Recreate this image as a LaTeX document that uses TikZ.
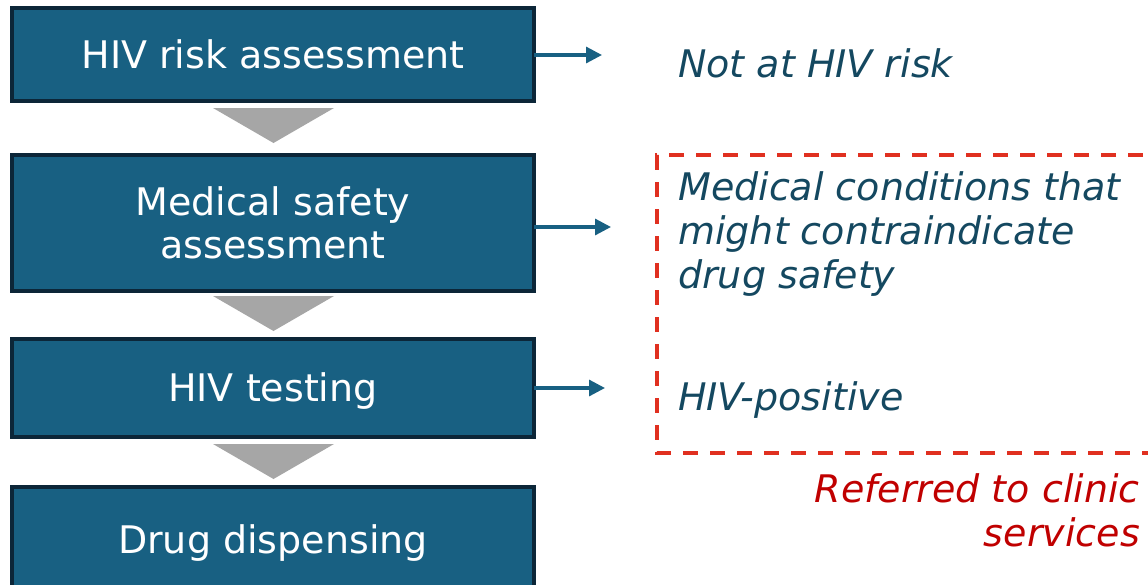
\documentclass[tikz,border=0pt]{standalone}
\usepackage{fontspec}
\setmainfont{DejaVu Sans}
\usetikzlibrary{arrows.meta}
\definecolor{stepfill}{RGB}{24,96,130}
\definecolor{stepedge}{RGB}{12,38,56}
\definecolor{outtext}{RGB}{20,72,96}
\definecolor{chevron}{RGB}{166,166,166}
\definecolor{refred}{RGB}{224,48,32}
\definecolor{reftext}{RGB}{192,0,0}
\begin{document}
\begin{tikzpicture}[x=1pt,y=-1pt,
  stepbox/.style={draw=stepedge,line width=3.5pt,fill=stepfill,text=white,
    minimum width=522pt,inner sep=0pt,outer sep=0pt,align=center,
    font=\fontsize{38}{43}\selectfont},
  oneline/.style={text height=27.7pt,text depth=0pt},
  outlabel/.style={text=outtext,anchor=base west,inner sep=0pt,align=left,
    font=\fontsize{38}{44}\selectfont\itshape},
  exitarrow/.style={draw=stepfill,line width=3.2pt,
    -{Triangle[length=16pt,width=16pt]}},
  chev/.style={fill=chevron,draw=none}]
\useasboundingbox (0,0) rectangle (1148,584);

% process steps
\node[stepbox,oneline,minimum height=93pt]  (risk) at (273,54.5) {HIV risk assessment};
\node[stepbox,minimum height=136pt] (med)  at (273,223) {Medical safety\\assessment};
\node[stepbox,oneline,minimum height=98pt]  (test) at (273,388) {HIV testing};
\node[stepbox,oneline,minimum height=106pt] (disp) at (273,540) {Drug dispensing};

% chevrons between steps
\fill[chev] (213,108) -- (334,108) -- (273.5,143) -- cycle;
\fill[chev] (213,296) -- (334,296) -- (273.5,331) -- cycle;
\fill[chev] (213,444) -- (334,444) -- (273.5,479) -- cycle;

% exits
\coordinate (e1) at (602,55);
\coordinate (e2) at (611,227);
\coordinate (e3) at (605,388);
\draw[exitarrow] (risk.east |- e1) -- (e1);
\draw[exitarrow] (med.east |- e2) -- (e2);
\draw[exitarrow] (test.east |- e3) -- (e3);

\node[outlabel] (notrisk) at (678,77) {Not at HIV risk};
\node[outlabel] (cond) at (678,288) {Medical conditions that\\might contraindicate\\drug safety};
\node[outlabel] (pos) at (678,410) {HIV-positive};

% referral group
\draw[refred,line width=3.5pt,dash pattern=on 15pt off 12pt] (1170,155) -- (657,155) -- (657,453) -- (1170,453);
\node[text=reftext,anchor=base east,inner sep=0pt,align=right,
  font=\fontsize{38}{44}\selectfont\itshape] (ref) at (1140,546) {Referred to clinic\\services};
\end{tikzpicture}
\end{document}
